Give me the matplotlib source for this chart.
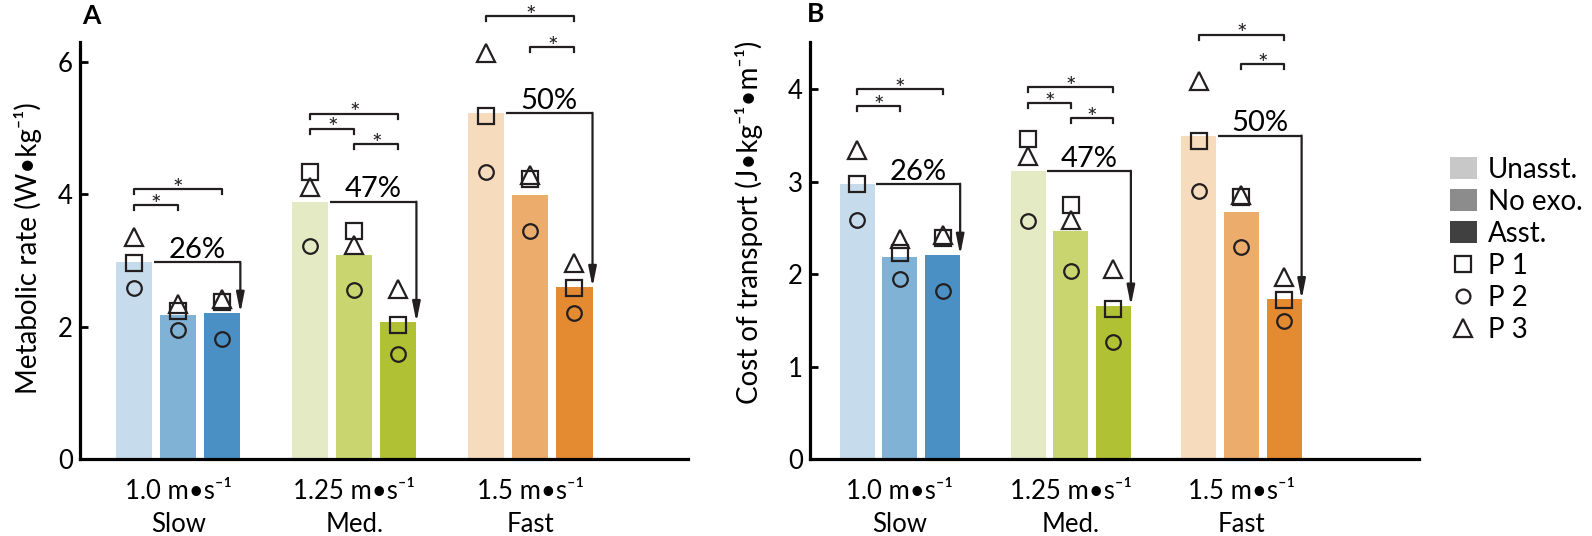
import matplotlib
matplotlib.use("Agg")
import matplotlib.pyplot as plt
from matplotlib.patches import Patch
from matplotlib.lines import Line2D
import numpy as np

# ---------------- data ----------------
speed_labels = ["1.0 m•s⁻¹\nSlow", "1.25 m•s⁻¹\nMed.", "1.5 m•s⁻¹\nFast"]
conditions = ["Unasst.", "No exo.", "Asst."]
participants = ["P 1", "P 2", "P 3"]

# Panel A: metabolic rate (W/kg); rows = speed, cols = condition
metab_mean = [[2.98, 2.18, 2.21], [3.89, 3.08, 2.07], [5.23, 3.99, 2.60]]
metab_p1 = [[2.96, 2.24, 2.38], [4.33, 3.44, 2.03], [5.18, 4.23, 2.58]]
metab_p2 = [[2.58, 1.95, 1.81], [3.22, 2.56, 1.59], [4.34, 3.44, 2.21]]
metab_p3 = [[3.35, 2.35, 2.42], [4.11, 3.24, 2.57], [6.14, 4.29, 2.96]]
metab_brackets = [(0, 0, 2, 4.08), (0, 0, 1, 3.84),
                  (1, 0, 2, 5.22), (1, 0, 1, 4.99), (1, 1, 2, 4.76),
                  (2, 0, 2, 6.69), (2, 1, 2, 6.22)]

# Panel B: cost of transport (J/kg/m)
cot_mean = [[2.98, 2.19, 2.21], [3.12, 2.47, 1.66], [3.50, 2.67, 1.73]]
cot_p1 = [[2.98, 2.23, 2.39], [3.46, 2.75, 1.63], [3.44, 2.84, 1.72]]
cot_p2 = [[2.59, 1.95, 1.82], [2.58, 2.04, 1.27], [2.90, 2.30, 1.49]]
cot_p3 = [[3.34, 2.38, 2.42], [3.28, 2.59, 2.06], [4.09, 2.86, 1.97]]
cot_brackets = [(0, 0, 2, 4.00), (0, 0, 1, 3.82),
                (1, 0, 2, 4.02), (1, 0, 1, 3.85), (1, 1, 2, 3.69),
                (2, 0, 2, 4.59), (2, 1, 2, 4.27)]

reductions = ["26%", "47%", "50%"]

bar_colors = [["#c6dcec", "#80b2d6", "#4a90c4"],
              ["#e4ebc4", "#c9d670", "#b0c133"],
              ["#f7dbbd", "#ecac6c", "#e48a30"]]
legend_grays = ["#c8c8c8", "#8c8c8c", "#404040"]

# ---------------- style ----------------
plt.rcParams['font.family'] = ['Lato', 'DejaVu Sans']

INK = "#231f20"
W, H = 1592, 536
fig = plt.figure(figsize=(W / 100, H / 100), dpi=100)

axA = fig.add_axes([80 / W, 1 - 459.3 / H, (687.7 - 80) / W, (459.3 - 42) / H])
axB = fig.add_axes([810 / W, 1 - 459.3 / H, (1419 - 810) / W, (459.3 - 41.7) / H])

offsets = [-0.25, 0.0, 0.25]
bw = 0.205
markers = [("s", 12), ("o", 10.5), ("^", 13)]


def draw_panel(ax, mean, p1, p2, p3, brackets, ylim, yticks, xlim):
    for g in range(3):
        for c in range(3):
            x = g + offsets[c]
            ax.bar(x, mean[g][c], width=bw, color=bar_colors[g][c], edgecolor='none', zorder=1)
        for pdata, (m, ms) in zip([p1, p2, p3], markers):
            xs = [g + offsets[c] for c in range(3)]
            ax.plot(xs, pdata[g], linestyle='none', marker=m, ms=ms, mfc='none',
                    mec=INK, mew=1.6, zorder=3, clip_on=False)
        # reduction arrow
        y1 = mean[g][0]
        y3 = mean[g][2]
        xs0 = g + offsets[0] + bw / 2 + 0.01
        xe = g + offsets[2] + bw / 2
        ax.plot([xs0, xe], [y1, y1], color=INK, lw=1.6, solid_capstyle='butt', zorder=4)
        ax.annotate("", xy=(xe, y3), xytext=(xe, y1),
                    arrowprops=dict(arrowstyle='-|>,head_length=0.85,head_width=0.17',
                                    color=INK, lw=1.6, shrinkA=0, shrinkB=0,
                                    mutation_scale=14), zorder=4)
        ax.annotate(reductions[g], xy=((xs0 + xe) / 2, y1), xytext=(0, 3),
                    textcoords='offset points', ha='center', va='baseline',
                    fontsize=21, color='black', zorder=5)
    # significance brackets
    tick = (ylim[1] - ylim[0]) * 0.012
    for g, i, j, y in brackets:
        xa, xb = g + offsets[i], g + offsets[j]
        ax.plot([xa, xa, xb, xb], [y - tick, y, y, y - tick], color=INK, lw=1.6,
                clip_on=False, zorder=4)
        ax.annotate("*", xy=((xa + xb) / 2, y), xytext=(0, -5.5), textcoords='offset points',
                    ha='center', va='baseline', fontsize=18, color=INK,
                    annotation_clip=False)
    ax.set_xlim(*xlim)
    ax.set_ylim(*ylim)
    ax.set_yticks(yticks)
    ax.set_yticklabels([str(t) for t in yticks])
    ax.set_xticks([0, 1, 2])
    ax.set_xticklabels(speed_labels, linespacing=1.4)
    for s in ['top', 'right']:
        ax.spines[s].set_visible(False)
    for s in ['left', 'bottom']:
        ax.spines[s].set_linewidth(2.3)
        ax.spines[s].set_color('black')
    ax.tick_params(axis='y', direction='in', length=6, width=2, labelsize=18.5, pad=5)
    ax.tick_params(axis='x', length=0, labelsize=18.5, pad=14)


draw_panel(axA, metab_mean, metab_p1, metab_p2, metab_p3, metab_brackets,
           (0, 6.3), [0, 2, 4, 6], (-0.558, 2.893))
draw_panel(axB, cot_mean, cot_p1, cot_p2, cot_p3, cot_brackets,
           (0, 4.515), [0, 1, 2, 3, 4], (-0.527, 3.04))

fig.text(28 / W, 1 - 248 / H, "Metabolic rate (W•kg⁻¹)", rotation=90,
         ha='center', va='center', fontsize=20)
fig.text(749 / W, 1 - 222 / H, "Cost of transport (J•kg⁻¹•m⁻¹)", rotation=90,
         ha='center', va='center', fontsize=20)

fig.text(82 / W, 1 - 24 / H, "A", fontsize=19, fontweight='bold', va='baseline')
fig.text(807 / W, 1 - 22 / H, "B", fontsize=19, fontweight='bold', va='baseline')

handles = [Patch(facecolor=c, edgecolor='none') for c in legend_grays]
handles += [Line2D([], [], linestyle='none', marker=m, ms=ms * 0.95, mfc='none', mec=INK, mew=1.6)
            for m, ms in markers]
labels = conditions + participants
fig.legend(handles, labels, loc='center left', bbox_to_anchor=(1450 / W, 1 - 250 / H),
           frameon=False, fontsize=20, handlelength=0.97, handleheight=0.83,
           handletextpad=0.4, labelspacing=0.22, borderpad=0, borderaxespad=0)

fig.savefig("out.png", dpi=100)
